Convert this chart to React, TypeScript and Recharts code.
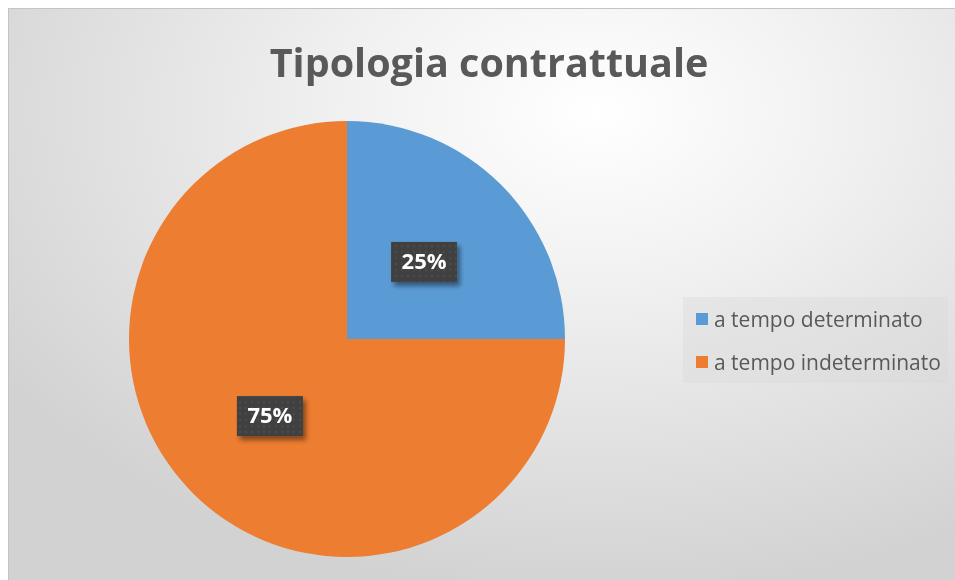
import React from 'react'
import { PieChart, Pie, Cell, Legend } from 'recharts'

const categories = ['a tempo determinato', 'a tempo indeterminato']
const shares = [25, 75]
const colors = ['#5B9BD5', '#ED7D31']

const data = categories.map((name, i) => ({ name, value: shares[i] }))

const RADIAN = Math.PI / 180

const renderLabel = (props: any) => {
  const { cx, cy, midAngle, outerRadius, percent } = props
  const r = outerRadius * 0.5
  const x = cx + r * Math.cos(-midAngle * RADIAN)
  const y = cy + r * Math.sin(-midAngle * RADIAN)
  const txt = `${Math.round(percent * 100)}%`
  const w = 66
  const h = 40
  return (
    <g>
      <rect x={x - w / 2} y={y - h / 2} width={w} height={h} fill="#404040" filter="url(#lblShadow)" />
      <rect x={x - w / 2} y={y - h / 2} width={w} height={h} fill="url(#dots)" />
      <text x={x} y={y + 1} fill="#ffffff" textAnchor="middle" dominantBaseline="middle"
        fontFamily="'Open Sans', sans-serif" fontWeight="bold" fontSize={22}>
        {txt}
      </text>
    </g>
  )
}

const renderLegend = () => (
  <div style={{ background: 'rgba(215,215,215,0.35)', padding: '0 6px 0 13px', width: 246, height: 86,
    display: 'flex', flexDirection: 'column', justifyContent: 'center' }}>
    {categories.map((c, i) => (
      <div key={c} style={{ display: 'flex', alignItems: 'center', height: 43 }}>
        <span style={{ width: 12, height: 12, background: colors[i], marginRight: 6, display: 'inline-block' }} />
        <span style={{ fontFamily: "'Open Sans', sans-serif", fontSize: 21, color: '#595959' }}>{c}</span>
      </div>
    ))}
  </div>
)

export default function App() {
  return (
    <div style={{
      position: 'fixed', top: 8, left: 8, width: 947, height: 572,
      borderTop: '1px solid #c4c4c4', borderLeft: '1px solid #c4c4c4', boxSizing: 'border-box',
      background: 'radial-gradient(ellipse 75% 85% at 62% 18%, #ffffff 0%, #f1f1f1 35%, #d2d2d2 100%)',
    }}>
      <div style={{
        position: 'absolute', top: 26, left: 7, width: 946, textAlign: 'center',
        fontFamily: "'Open Sans', sans-serif", fontWeight: 'bold', fontSize: 39.5, color: '#595959',
      }}>
        Tipologia contrattuale
      </div>
      <PieChart width={946} height={571} margin={{ top: 0, right: 0, bottom: 0, left: 0 }}
        style={{ position: 'absolute', top: 0, left: 0 }}>
        <defs>
          <filter id="lblShadow" x="-20%" y="-20%" width="150%" height="160%">
            <feDropShadow dx={3} dy={4} stdDeviation={2.5} floodColor="#000" floodOpacity={0.45} />
          </filter>
          <pattern id="dots" width={6} height={6} patternUnits="userSpaceOnUse">
            <circle cx={3} cy={3} r={1.2} fill="#4a4a4a" />
          </pattern>
        </defs>
        <Pie data={data} dataKey="value" nameKey="name" cx={338} cy={330} outerRadius={218}
          startAngle={90} endAngle={-270} stroke="none" label={renderLabel} labelLine={false}
          isAnimationActive={false}>
          {data.map((d, i) => <Cell key={d.name} fill={colors[i]} />)}
        </Pie>
        <Legend layout="vertical" align="right" verticalAlign="middle" content={renderLegend}
          wrapperStyle={{ left: 674, top: 288, width: 265 }} />
      </PieChart>
    </div>
  )
}
